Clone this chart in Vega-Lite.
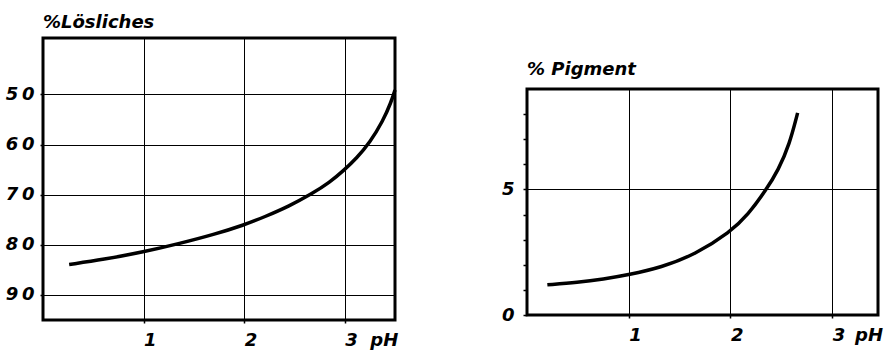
{
  "$schema": "https://vega.github.io/schema/vega-lite/v6.json",
  "padding": {"left": 3, "top": 12, "right": 0, "bottom": 0},
  "background": "white",
  "spacing": 95,
  "datasets": {
    "loes": [
      {"pH": 0.26, "v": 84.0},
      {"pH": 0.6, "v": 83.0},
      {"pH": 1.0, "v": 81.5},
      {"pH": 1.36, "v": 79.8},
      {"pH": 1.7, "v": 78.0},
      {"pH": 2.0, "v": 76.1},
      {"pH": 2.2, "v": 74.5},
      {"pH": 2.45, "v": 72.3},
      {"pH": 2.67, "v": 69.9},
      {"pH": 2.85, "v": 67.6},
      {"pH": 2.99, "v": 65.2},
      {"pH": 3.12, "v": 62.7},
      {"pH": 3.25, "v": 59.6},
      {"pH": 3.38, "v": 55.3},
      {"pH": 3.46, "v": 51.6},
      {"pH": 3.5, "v": 49.1}
    ],
    "pigment": [
      {"pH": 0.2, "v": 1.2},
      {"pH": 0.5, "v": 1.3},
      {"pH": 0.75, "v": 1.43},
      {"pH": 1.0, "v": 1.6},
      {"pH": 1.32, "v": 1.9},
      {"pH": 1.65, "v": 2.4},
      {"pH": 2.0, "v": 3.31},
      {"pH": 2.17, "v": 3.98},
      {"pH": 2.35, "v": 4.98},
      {"pH": 2.47, "v": 5.77},
      {"pH": 2.58, "v": 6.8},
      {"pH": 2.66, "v": 8.05}
    ]
  },
  "config": {
    "view": {"stroke": "black", "strokeWidth": 3},
    "axis": {
      "labelFont": "DejaVu Sans",
      "labelFontStyle": "italic",
      "labelFontWeight": "bold",
      "labelFontSize": 18,
      "labelColor": "black",
      "gridColor": "black",
      "gridOpacity": 1,
      "gridWidth": 1,
      "tickColor": "black",
      "tickWidth": 1.5,
      "domain": false,
      "title": null
    },
    "title": {
      "font": "DejaVu Sans",
      "fontStyle": "italic",
      "fontSize": 18,
      "fontWeight": "bold",
      "color": "black",
      "anchor": "start",
      "frame": "group"
    }
  },
  "hconcat": [
    {
      "width": 352,
      "height": 282,
      "title": {"text": "%Lösliches", "offset": 6},
      "data": {"name": "loes"},
      "mark": {"type": "line", "color": "black", "strokeWidth": 3.5, "interpolate": "basis"},
      "encoding": {
        "x": {
          "field": "pH", "type": "quantitative",
          "scale": {"domain": [0, 3.5], "nice": false, "zero": false},
          "axis": {"values": [1, 2, 3], "labelExpr": "datum.value === 3 ? '3\u00a0\u00a0pH' : datum.label", "labelAlign": "left", "labelDx": -5, "labelPadding": 8, "tickSize": 3}
        },
        "y": {
          "field": "v", "type": "quantitative",
          "scale": {"domain": [38.7, 95.1], "reverse": true, "nice": false, "zero": false},
          "axis": {"values": [50, 60, 70, 80, 90], "labelPadding": 6, "tickSize": 3, "labelExpr": "slice(datum.label, 0, 1) + '\u2009' + slice(datum.label, 1)"}
        }
      }
    },
    {
      "spacing": 15,
      "vconcat": [
        {
          "width": 351,
          "height": 6,
          "view": {"stroke": null},
          "data": {"values": []},
          "mark": "point"
        },
        {
          "width": 351,
          "height": 226,
          "title": {"text": "% Pigment", "offset": 10},
          "data": {"name": "pigment"},
          "mark": {"type": "line", "color": "black", "strokeWidth": 3.5, "interpolate": "basis"},
          "encoding": {
            "x": {
              "field": "pH", "type": "quantitative",
              "scale": {"domain": [0, 3.45], "nice": false, "zero": false},
              "axis": {"values": [1, 2, 3], "labelExpr": "datum.value === 3 ? '3\u00a0\u2009pH' : datum.label", "labelAlign": "left", "labelDx": -5, "labelPadding": 8, "tickSize": 3}
            },
            "y": {
              "field": "v", "type": "quantitative",
              "scale": {"domain": [0, 9], "nice": false, "zero": false},
              "axis": {
                "values": [0, 1, 2, 3, 4, 5, 6, 7, 8],
                "labelExpr": "datum.value === 0 || datum.value === 5 ? datum.label : ''",
                "labelPadding": 9,
                "tickSize": 4,
                "gridOpacity": {"condition": {"test": "datum.value === 5", "value": 1}, "value": 0}
              }
            }
          }
        }
      ]
    }
  ]
}
